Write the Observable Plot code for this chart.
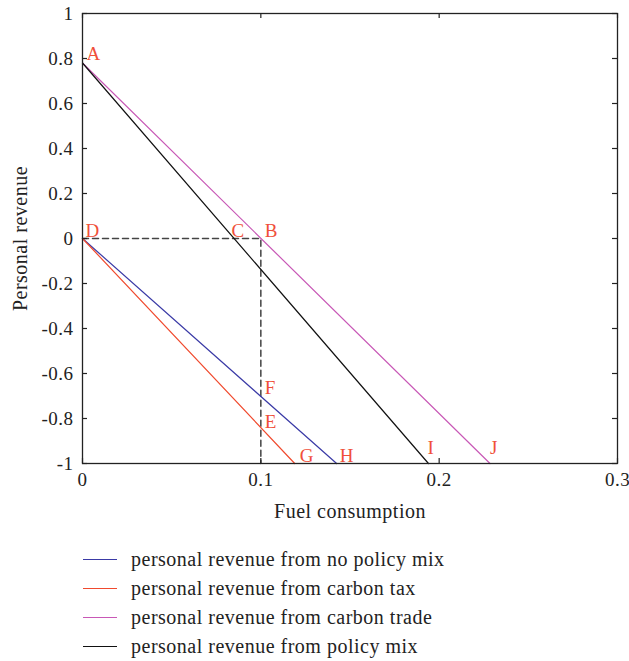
<!DOCTYPE html>
<html>
<head>
<meta charset="utf-8">
<script src="https://cdn.jsdelivr.net/npm/d3@7"></script>
<script src="https://cdn.jsdelivr.net/npm/@observablehq/plot@0.6"></script>
<style>
  html, body { margin: 0; padding: 0; background: #fff; }
  body { font-family: "Liberation Serif", "DejaVu Serif", serif; color: #222; }
  #wrap { width: 629px; }
  #legend { padding-top: 15px; }
  .row { height: 29px; display: flex; align-items: center; font-size: 20px; letter-spacing: 0.5px; }
  .sw { margin-left: 83px; width: 34px; height: 0; border-top: 1.5px solid; margin-right: 14px; }
</style>
</head>
<body>
<div id="wrap"></div>
<script>
// ---- data ----
const xTicks = [0, 0.1, 0.2, 0.3];
const xTickLabels = ["0", "0.1", "0.2", "0.3"];
const yTicks = [-1, -0.8, -0.6, -0.4, -0.2, 0, 0.2, 0.4, 0.6, 0.8, 1];
const yTickLabels = ["-1", "-0.8", "-0.6", "-0.4", "-0.2", "0", "0.2", "0.4", "0.6", "0.8", "1"];

const seriesNames = [
  "personal revenue from no policy mix",
  "personal revenue from carbon tax",
  "personal revenue from carbon trade",
  "personal revenue from policy mix"
];
const noPolicyX = [0, 0.1425];
const noPolicyY = [0, -1];
const carbonTaxX = [0, 0.119];
const carbonTaxY = [0, -1];
const carbonTradeX = [0, 0.2285];
const carbonTradeY = [0.78, -1];
const policyMixX = [0, 0.194];
const policyMixY = [0.78, -1];

const guideX = [0, 0.1, 0.1];
const guideY = [0, 0, -1];

const pointLetters = ["A", "B", "C", "D", "E", "F", "G", "H", "I", "J"];
const pointX = [0, 0.1, 0.0858, 0, 0.1, 0.1, 0.119, 0.1425, 0.194, 0.2285];
const pointY = [0.78, 0, 0, 0, -0.84, -0.70, -1, -1, -1, -1];

// ---- styling ----
const colors = ["#3a3aa6", "#f04a2e", "#c858b6", "#111111"];
const labelOffsets = {
  A: [4, -9], B: [4, -8], C: [-4, -8], D: [3, -8], E: [4, -6],
  F: [4, -8], G: [5, -8], H: [3, -8], I: [-1, -16], J: [0, -16]
};

const seriesX = [noPolicyX, carbonTaxX, carbonTradeX, policyMixX];
const seriesY = [noPolicyY, carbonTaxY, carbonTradeY, policyMixY];
const lineData = [];
seriesNames.forEach((name, s) => {
  seriesX[s].forEach((x, i) => lineData.push({series: name, x, y: seriesY[s][i], color: colors[s]}));
});
const guideData = guideX.map((x, i) => ({x, y: guideY[i]}));
const labelData = pointLetters.map((t, i) => ({t, x: pointX[i], y: pointY[i]}));

const xFmt = new Map(xTicks.map((d, i) => [d, xTickLabels[i]]));
const yFmt = new Map(yTicks.map((d, i) => [d, yTickLabels[i]]));

const W = 629, H = 530, mL = 82, mR = 12, mT = 13, mB = 67;
const pW = W - mL - mR, pH = H - mT - mB;
const tickLen = 5;
const labelColor = "#f0503a";

const chart = Plot.plot({
  width: W, height: H,
  marginLeft: mL, marginRight: mR, marginTop: mT, marginBottom: mB,
  style: {fontFamily: "Liberation Serif, DejaVu Serif, serif", fontSize: "19px", letterSpacing: "0.5px", color: "#222", background: "#fff", overflow: "visible"},
  x: {domain: [0, 0.3], ticks: xTicks, tickFormat: d => xFmt.get(d), tickSize: 0, tickPadding: 9, label: null},
  y: {domain: [-1, 1], ticks: yTicks, tickFormat: d => yFmt.get(d), tickSize: 0, tickPadding: 9, label: null},
  marks: [
    Plot.line(guideData, {x: "x", y: "y", stroke: "#444", strokeWidth: 1.5, strokeDasharray: "6,4"}),
    ...seriesNames.map(name => Plot.line(lineData.filter(d => d.series === name), {x: "x", y: "y", stroke: "color", strokeWidth: 1.2})),
    Plot.frame({stroke: "#222", strokeWidth: 1.3}),
    Plot.tickX(xTicks, {x: d => d, insetTop: pH - tickLen, stroke: "#222", strokeWidth: 1.2}),
    Plot.tickX(xTicks, {x: d => d, insetBottom: pH - tickLen, stroke: "#222", strokeWidth: 1.2}),
    Plot.tickY(yTicks, {y: d => d, insetRight: pW - tickLen, stroke: "#222", strokeWidth: 1.2}),
    Plot.tickY(yTicks, {y: d => d, insetLeft: pW - tickLen, stroke: "#222", strokeWidth: 1.2}),
    ...labelData.map(d => Plot.text([d], {
      x: "x", y: "y", text: "t", fill: labelColor, fontSize: 19,
      textAnchor: "start", lineAnchor: "middle",
      dx: labelOffsets[d.t][0], dy: labelOffsets[d.t][1]
    })),
    Plot.text(["Fuel consumption"], {frameAnchor: "bottom", text: d => d, dy: 48, fontSize: 20, fill: "#222", textAnchor: "middle", lineAnchor: "middle"}),
    Plot.text(["Personal revenue"], {frameAnchor: "left", text: d => d, dx: -62, rotate: -90, fontSize: 20, fill: "#222", textAnchor: "middle", lineAnchor: "middle"})
  ]
});
const wrap = document.getElementById("wrap");
wrap.appendChild(chart);

const legend = document.createElement("div");
legend.id = "legend";
seriesNames.forEach((name, i) => {
  const row = document.createElement("div");
  row.className = "row";
  const sw = document.createElement("span");
  sw.className = "sw";
  sw.style.borderTopColor = colors[i];
  const tx = document.createElement("span");
  tx.textContent = name;
  row.appendChild(sw);
  row.appendChild(tx);
  legend.appendChild(row);
});
wrap.appendChild(legend);
</script>
</body>
</html>
